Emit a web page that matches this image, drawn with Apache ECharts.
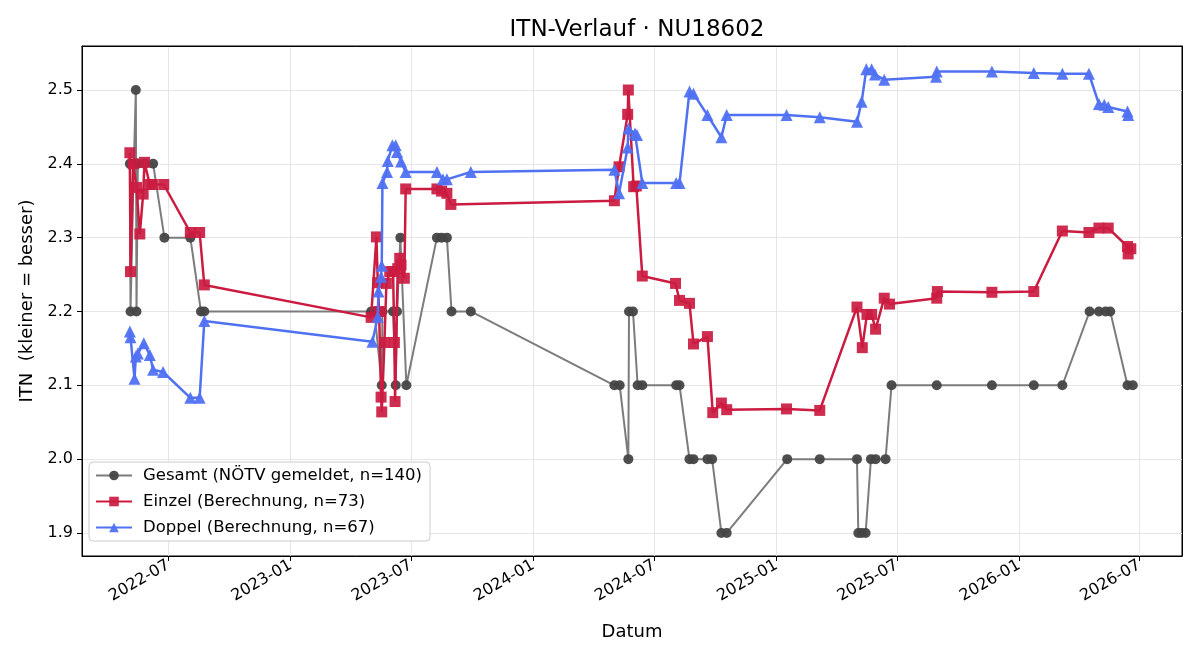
<!DOCTYPE html>
<html><head><meta charset="utf-8">
<script src="https://cdn.jsdelivr.net/npm/echarts@6/dist/echarts.min.js"></script>
<style>html,body{margin:0;padding:0;background:#fff}#c{width:1200px;height:660px}</style>
</head><body><div id="c"></div>
<script>
const gesamtDates = ['2022-05-04','2022-05-05','2022-05-10','2022-05-13','2022-05-14','2022-05-16','2022-05-26','2022-06-08','2022-06-25','2022-08-03','2022-08-19','2022-08-24',
 '2023-05-02','2023-05-07','2023-05-18','2023-05-19','2023-06-04','2023-06-08','2023-06-10','2023-06-15','2023-06-24','2023-08-09','2023-08-16','2023-08-24','2023-08-31','2023-09-29',
 '2024-05-02','2024-05-10','2024-05-23','2024-05-24','2024-05-30','2024-06-06','2024-06-13','2024-08-03','2024-08-08','2024-08-23','2024-08-29','2024-09-19','2024-09-26','2024-10-10','2024-10-18',
 '2025-01-17','2025-03-07','2025-05-02','2025-05-04','2025-05-09','2025-05-15','2025-05-23','2025-05-30','2025-06-14','2025-06-23','2025-08-30','2025-11-21',
 '2026-01-23','2026-03-07','2026-04-17','2026-05-01','2026-05-11','2026-05-18','2026-06-13','2026-06-21'];
const gesamtValues = [2.4,2.2,2.4,2.5,2.2,2.4,2.4,2.4,2.3,2.3,2.2,2.2,
 2.2,2.2,2.1,2.2,2.2,2.1,2.2,2.3,2.1,2.3,2.3,2.3,2.2,2.2,
 2.1,2.1,2.0,2.2,2.2,2.1,2.1,2.1,2.1,2.0,2.0,2.0,2.0,1.9,1.9,
 2.0,2.0,2.0,1.9,1.9,1.9,2.0,2.0,2.0,2.1,2.1,2.1,
 2.1,2.1,2.2,2.2,2.2,2.2,2.1,2.1];

const einzelDates = ['2022-05-04','2022-05-05','2022-05-09','2022-05-14','2022-05-19','2022-05-24','2022-05-26','2022-06-03','2022-06-07','2022-06-24','2022-08-03','2022-08-17','2022-08-24',
 '2023-05-02','2023-05-10','2023-05-12','2023-05-14','2023-05-17','2023-05-18','2023-05-22','2023-05-25','2023-05-30','2023-06-04','2023-06-06','2023-06-07','2023-06-11','2023-06-14','2023-06-16','2023-06-21','2023-06-23','2023-08-09','2023-08-16','2023-08-24','2023-08-30',
 '2024-05-02','2024-05-09','2024-05-22','2024-05-23','2024-05-31','2024-06-04','2024-06-13','2024-08-02','2024-08-08','2024-08-23','2024-08-29','2024-09-19','2024-09-27','2024-10-10','2024-10-18',
 '2025-01-16','2025-03-07','2025-05-02','2025-05-10','2025-05-17','2025-05-24','2025-05-30','2025-06-12','2025-06-20','2025-08-30','2025-08-31','2025-11-21',
 '2026-01-23','2026-03-07','2026-04-16','2026-05-01','2026-05-15','2026-06-13','2026-06-14','2026-06-18'];
const einzelValues = [2.415,2.254,2.400,2.368,2.305,2.359,2.402,2.372,2.372,2.372,2.307,2.307,2.236,
 2.192,2.301,2.239,2.200,2.084,2.064,2.158,2.238,2.254,2.254,2.158,2.078,2.258,2.272,2.263,2.245,2.366,2.366,2.363,2.360,2.345,
 2.350,2.396,2.467,2.500,2.369,2.370,2.248,2.238,2.215,2.211,2.156,2.166,2.063,2.076,2.067,
 2.068,2.066,2.206,2.151,2.196,2.196,2.176,2.218,2.210,2.218,2.227,2.226,
 2.227,2.309,2.307,2.313,2.313,2.288,2.278,2.285];

const doppelDates = ['2022-05-04','2022-05-05','2022-05-11','2022-05-13','2022-05-16','2022-05-25','2022-06-03','2022-06-08','2022-06-23','2022-08-03','2022-08-17','2022-08-24',
 '2023-05-04','2023-05-12','2023-05-13','2023-05-17','2023-05-18','2023-05-19','2023-05-26','2023-05-27','2023-06-03','2023-06-08','2023-06-10','2023-06-16','2023-06-23','2023-08-09','2023-08-18','2023-08-24','2023-09-29',
 '2024-05-02','2024-05-09','2024-05-22','2024-05-23','2024-06-02','2024-06-05','2024-06-13','2024-08-03','2024-08-08','2024-08-23','2024-08-29','2024-09-19','2024-10-10','2024-10-18',
 '2025-01-16','2025-03-07','2025-05-02','2025-05-09','2025-05-16','2025-05-24','2025-05-29','2025-06-12','2025-08-29','2025-08-30','2025-11-21',
 '2026-01-23','2026-03-07','2026-04-16','2026-05-01','2026-05-09','2026-05-15','2026-06-13','2026-06-14'];
const doppelValues = [2.173,2.165,2.109,2.139,2.143,2.157,2.141,2.121,2.118,2.083,2.083,2.187,
 2.159,2.193,2.227,2.247,2.262,2.374,2.389,2.404,2.425,2.425,2.416,2.403,2.389,2.389,2.379,2.379,2.389,
 2.392,2.360,2.422,2.448,2.441,2.439,2.374,2.374,2.374,2.498,2.495,2.466,2.436,2.466,
 2.466,2.463,2.457,2.484,2.528,2.528,2.521,2.514,2.518,2.525,2.525,
 2.523,2.522,2.522,2.481,2.480,2.477,2.471,2.466];

const seriesNames = ['Gesamt (NÖTV gemeldet, n=140)','Einzel (Berechnung, n=73)','Doppel (Berechnung, n=67)'];
const titleText = 'ITN-Verlauf · NU18602';
const xName = 'Datum';
const yName = 'ITN  (kleiner = besser)';

function zip(d, v) { return d.map((x, i) => [x, v[i]]); }
const FONT = 'DejaVu Sans';
const DAY = 86400000;
const X_MIN = '2022-02-21', X_MAX = '2026-09-03';
const Y_MIN = 1.8688, Y_MAX = 2.5596;

const chart = echarts.init(document.getElementById('c'), null, {renderer: 'canvas'});
chart.setOption({
  animation: false,
  backgroundColor: '#fff',
  textStyle: {fontFamily: FONT},
  title: {
    text: titleText, left: 632, top: 14, textAlign: 'center',
    textStyle: {fontFamily: FONT, fontSize: 23, fontWeight: 'normal', color: '#000'}
  },
  grid: {left: 82, right: 18, top: 46, bottom: 104, show: true, borderColor: '#000', borderWidth: 1, backgroundColor: 'transparent'},
  legend: {
    orient: 'vertical', left: 89, top: 462,
    itemWidth: 36, itemHeight: 12, itemGap: 9,
    padding: [5, 8, 5, 6],
    backgroundColor: '#fff', borderColor: '#cccccc', borderWidth: 1, borderRadius: 4,
    textStyle: {fontFamily: FONT, fontSize: 16.5, color: '#000', padding: [0, 0, 0, 6]},
    data: seriesNames
  },
  xAxis: [{
    type: 'time',
    min: X_MIN, max: X_MAX,
    splitNumber: 8, minInterval: 178 * DAY, maxInterval: 186 * DAY,
    axisLine: {show: true, lineStyle: {color: '#000', width: 1}},
    axisTick: {show: true, length: 5, lineStyle: {color: '#000'}},
    axisLabel: {
      rotate: 30, fontFamily: FONT, fontSize: 16, color: '#000', margin: 8,
      showMinLabel: false, showMaxLabel: false, hideOverlap: false,
      formatter: function (v) {
        const d = new Date(v);
        const m = d.getMonth() + 1;
        return d.getFullYear() + '-' + (m < 10 ? '0' + m : m);
      }
    },
    splitLine: {show: true, lineStyle: {color: '#e6e6e6', width: 1}},
    name: xName, nameLocation: 'middle', nameGap: 67,
    nameTextStyle: {fontFamily: FONT, fontSize: 18, color: '#000'}
  }, {
    type: 'time', position: 'top', min: X_MIN, max: X_MAX,
    axisLine: {show: true, onZero: false, lineStyle: {color: '#000', width: 1}},
    axisTick: {show: false}, axisLabel: {show: false}, splitLine: {show: false}
  }],
  yAxis: [{
    type: 'value', min: Y_MIN, max: Y_MAX, splitNumber: 7,
    axisLine: {show: true, lineStyle: {color: '#000', width: 1}},
    axisTick: {show: true, length: 5, lineStyle: {color: '#000'}},
    axisLabel: {
      fontFamily: FONT, fontSize: 16, color: '#000', margin: 9,
      showMinLabel: false, showMaxLabel: false,
      formatter: v => v.toFixed(1)
    },
    splitLine: {show: true, lineStyle: {color: '#e6e6e6', width: 1}},
    name: yName, nameLocation: 'middle', nameGap: 45,
    nameTextStyle: {fontFamily: FONT, fontSize: 18, color: '#000'}
  }, {
    type: 'value', position: 'right', min: Y_MIN, max: Y_MAX,
    axisLine: {show: true, onZero: false, lineStyle: {color: '#000', width: 1}},
    axisTick: {show: false}, axisLabel: {show: false}, splitLine: {show: false}
  }],
  series: [
    {
      name: seriesNames[0], type: 'line', data: zip(gesamtDates, gesamtValues),
      symbol: 'circle', symbolSize: 10, showSymbol: true, z: 2,
      lineStyle: {color: '#7c7c7c', width: 2},
      itemStyle: {color: '#454545', opacity: 0.95}
    },
    {
      name: seriesNames[1], type: 'line', data: zip(einzelDates, einzelValues),
      symbol: 'rect', symbolSize: 11, showSymbol: true, z: 3,
      lineStyle: {color: '#cb1b40', width: 2.5},
      itemStyle: {color: '#cb1b40', opacity: 0.92}
    },
    {
      name: seriesNames[2], type: 'line', data: zip(doppelDates, doppelValues),
      symbol: 'triangle', symbolSize: 12, showSymbol: true, z: 4,
      lineStyle: {color: '#5071f2', width: 2.5},
      itemStyle: {color: '#5071f2', opacity: 0.95}
    }
  ]
});
</script>
</body></html>
